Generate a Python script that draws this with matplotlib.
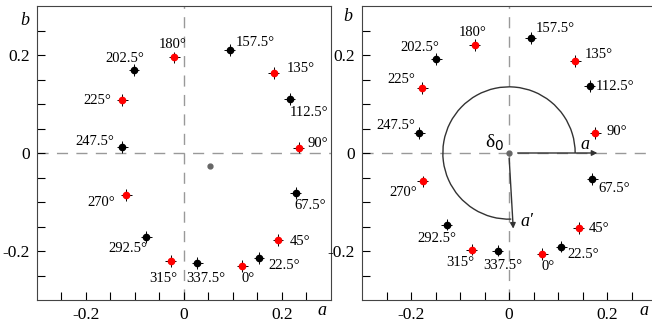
import matplotlib.pyplot as plt
import numpy as np
from matplotlib.patches import Arc

plt.rcParams['font.family'] = ['Liberation Serif', 'DejaVu Serif']

# angles, in the order used for both panels
angles = ['0', '22.5', '45', '67.5', '90', '112.5', '135', '157.5',
          '180', '202.5', '225', '247.5', '270', '292.5', '315', '337.5']
is_red = [True, False] * 8

# left panel (a, b)
a_left = [0.119, 0.153, 0.192, 0.228, 0.234, 0.216, 0.183, 0.093,
          -0.020, -0.102, -0.126, -0.126, -0.118, -0.077, -0.027, 0.027]
b_left = [-0.231, -0.214, -0.178, -0.081, 0.011, 0.110, 0.164, 0.210,
          0.195, 0.169, 0.108, 0.013, -0.085, -0.171, -0.220, -0.225]
center_left = (0.053, -0.026)

# right panel (a, b), centred
a_right = [0.068, 0.107, 0.142, 0.170, 0.176, 0.165, 0.135, 0.044,
           -0.070, -0.148, -0.177, -0.183, -0.176, -0.127, -0.076, -0.023]
b_right = [-0.206, -0.191, -0.153, -0.053, 0.041, 0.136, 0.187, 0.235,
           0.220, 0.192, 0.132, 0.041, -0.058, -0.146, -0.197, -0.199]
center_right = (0.0, 0.0)

a_err = 0.011
b_err = 0.012

# label offsets in pixels (dx, dy)
off_left = [(6, -12), (25, -8), (22, -1), (14, -13), (19, 4), (19, -13), (27, 4), (26, 8),
            (-2, 13), (-9, 12), (-25, 0), (-27, 5), (-25, -8), (-18, -12), (-7, -18), (9, -15)]
off_right = [(6, -13), (22, -8), (20, -1), (22, -10), (22, 1), (25, 0), (24, 7), (25, 9),
             (-2, 13), (-17, 11), (-21, 9), (-24, 7), (-20, -11), (-10, -14), (-11, -13), (5, -15)]

fig = plt.figure(figsize=(6.52, 3.22), dpi=100)
ax1 = fig.add_axes([37 / 652, 22 / 322, 294 / 652, 294 / 322])
ax2 = fig.add_axes([362 / 652, 22 / 322, 294 / 652, 294 / 322])


def draw_panel(ax, a, b, offs, center):
    ax.axhline(0, color='#999999', lw=1, dashes=(8, 6), zorder=0)
    ax.axvline(0, color='#999999', lw=1, dashes=(8, 6), zorder=0)
    for i in range(len(a)):
        col = 'red' if is_red[i] else 'black'
        ax.errorbar(a[i], b[i], xerr=a_err, yerr=b_err, fmt='o', ms=4.5,
                    color=col, ecolor='black', elinewidth=0.7, capsize=0, zorder=3)
        ax.annotate(angles[i] + '°', (a[i], b[i]), xytext=offs[i],
                    textcoords='offset pixels', ha='center', va='center', fontsize=10.5)
    ax.plot(*center, 'o', color='#666666', ms=3.5, zorder=3)
    ax.set_xlim(-0.3, 0.3)
    ax.set_ylim(-0.3, 0.3)
    ax.set_xticks([-0.2, 0, 0.2])
    ax.set_yticks([-0.2, 0, 0.2])
    ax.set_xticklabels(['-0.2', '0', '0.2'])
    ax.set_yticklabels(['-0.2', '0', '0.2'])
    ax.set_xticks(np.arange(-0.25, 0.3, 0.05), minor=True)
    ax.set_yticks(np.arange(-0.25, 0.3, 0.05), minor=True)
    ax.tick_params(which='both', direction='in', length=6, width=0.8,
                   top=False, right=False, labelsize=12.5, pad=5)
    for s in ax.spines.values():
        s.set_color('#444444')


draw_panel(ax1, a_left, b_left, off_left, center_left)
draw_panel(ax2, a_right, b_right, off_right, center_right)

ax1.text(-0.041, 0.952, 'b', transform=ax1.transAxes, fontsize=13, style='italic',
         ha='center', va='center')
ax1.text(0.968, -0.037, 'a', transform=ax1.transAxes, fontsize=13, style='italic',
         ha='center', va='center')
ax2.text(-0.049, 0.964, 'b', transform=ax2.transAxes, fontsize=13, style='italic',
         ha='center', va='center')
ax2.text(0.959, -0.037, 'a', transform=ax2.transAxes, fontsize=13, style='italic',
         ha='center', va='center')

# rotation annotation on right panel
ax2.add_patch(Arc((0, 0), 0.27, 0.27, theta1=0, theta2=272, color='#333333', lw=1))
ax2.annotate('', xy=(0.186, 0), xytext=(0.012, 0),
             arrowprops=dict(arrowstyle='-|>', color='#333333', lw=1, mutation_scale=8))
ax2.annotate('', xy=(0.009, -0.16), xytext=(0, -0.005),
             arrowprops=dict(arrowstyle='-|>', color='#333333', lw=1, mutation_scale=8))
ax2.text(0.155, 0.018, 'a', fontsize=13, style='italic', ha='center', va='center')
ax2.text(0.036, -0.14, "a′", fontsize=13, style='italic', ha='center', va='center')
ax2.text(-0.03, 0.02, 'δ$_0$', fontsize=14, ha='center', va='center')

fig.savefig('out.png', dpi=100)
